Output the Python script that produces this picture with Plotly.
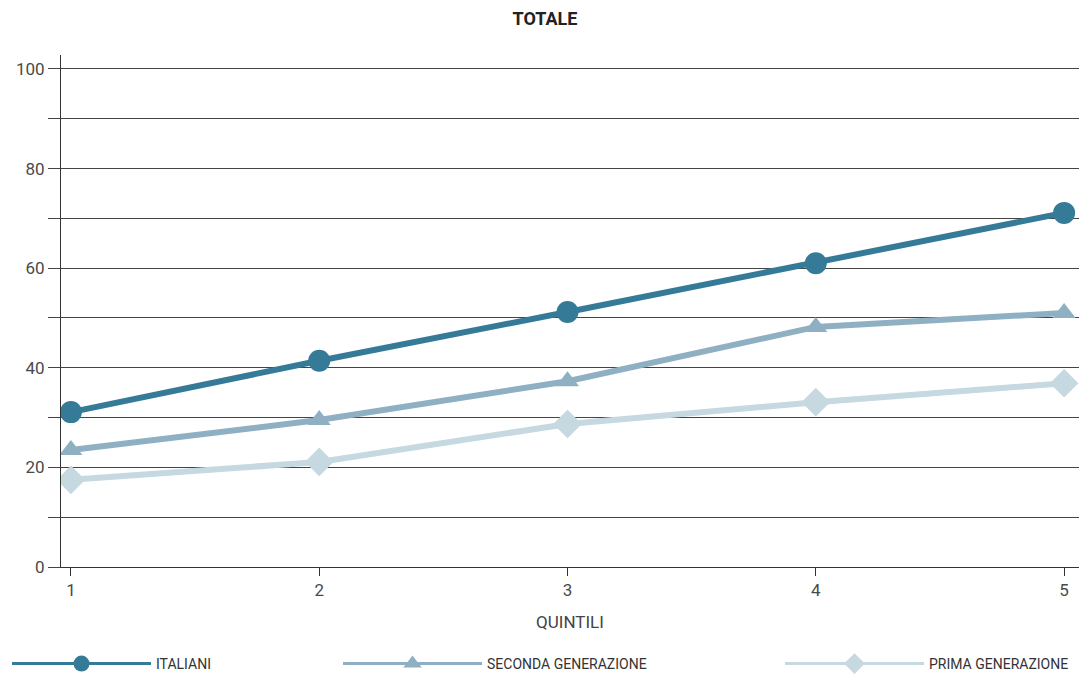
import plotly.graph_objects as go

quintili = [1, 2, 3, 4, 5]
italiani = [31.1, 41.4, 51.2, 61.0, 71.1]
seconda = [23.5, 29.5, 37.3, 48.2, 51.0]
prima = [17.5, 21.1, 28.7, 33.1, 36.9]
names = ["ITALIANI", "SECONDA GENERAZIONE", "PRIMA GENERAZIONE"]

y_tickvals = [0, 10, 20, 30, 40, 50, 60, 70, 80, 90, 100]
y_ticktext = ["0", "", "20", "", "40", "", "60", "", "80", "", "100"]

FONT = "Roboto"
colors = ["#357b98", "#8fb0c2", "#c6d8e0"]
symbols = ["circle", "triangle-up", "diamond"]
sizes = [22, 20, 22]
legends = ["legend", "legend2", "legend3"]

fig = go.Figure()
for vals, name, c, s, sz in zip([italiani, seconda, prima], names, colors, symbols, sizes):
    fig.add_trace(go.Scatter(x=quintili, y=vals, name=name, mode="lines+markers",
                             line=dict(color=c, width=6), marker=dict(symbol=s, size=sz, color=c),
                             showlegend=False))
# legend entries (thinner line, large marker)
for name, c, s, lg in zip(names, colors, symbols, legends):
    fig.add_trace(go.Scatter(x=[None], y=[None], name=name, mode="lines+markers",
                             line=dict(color=c, width=3), marker=dict(symbol=s, size=26, color=c),
                             showlegend=True, legend=lg))

leg = dict(orientation="h", yanchor="middle", yref="container", y=(674 - 664) / 674,
           xref="container", xanchor="left", itemwidth=139,
           font=dict(family=FONT, size=14, color="#333"), bgcolor="rgba(0,0,0,0)")

tickfont = dict(family=FONT, size=17, color="#4a4a4a")

fig.update_layout(
    width=1080, height=674,
    margin=dict(l=61, r=1, t=55, b=107),
    paper_bgcolor="white", plot_bgcolor="white",
    title=dict(text="<b>TOTALE</b>", x=545/1080, xref="container", xanchor="center",
               y=1 - 19/674, yref="container", yanchor="middle",
               font=dict(family=FONT, size=18, color="#222")),
    font=dict(family=FONT, color="#444"),
    xaxis=dict(range=[0.96, 5.06], tickvals=quintili, ticks="outside", ticklen=8, tickcolor="#333",
               showgrid=False, showline=True, linecolor="#333", linewidth=1, zeroline=False,
               automargin=False, tickfont=tickfont,
               title=dict(text="QUINTILI", font=dict(family=FONT, size=17, color="#444"),
                          standoff=16)),
    yaxis=dict(range=[0, 102.8], tickvals=y_tickvals, ticktext=y_ticktext, ticks="outside",
               ticklen=12, tickcolor="#444", showgrid=True, gridcolor="#444", gridwidth=1,
               showline=True, linecolor="#333", linewidth=1, zeroline=False, automargin=False,
               tickfont=tickfont),
    legend=dict(leg, x=7/1080),
    legend2=dict(leg, x=338/1080),
    legend3=dict(leg, x=780/1080),
    showlegend=True,
)

fig.write_html("out.html", config={"displayModeBar": False},
               post_script="document.body.style.margin='0';")
